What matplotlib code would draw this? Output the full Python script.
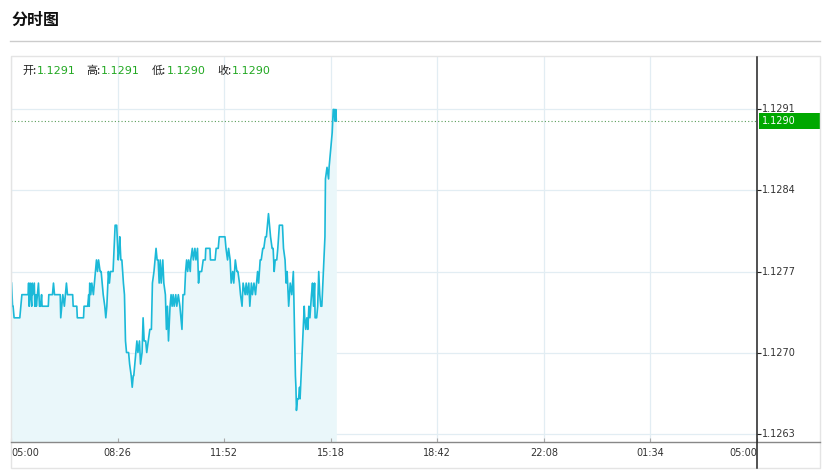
import matplotlib
matplotlib.use("Agg")
import matplotlib.pyplot as plt
from matplotlib.lines import Line2D
from matplotlib.patches import Rectangle
import matplotlib.transforms as mtransforms

# ── Data: minutes after 05:00, price ────────────────────────────────────────
minutes = [
    1, 3, 4, 6, 17, 21, 33, 34, 35, 37, 38, 40, 41, 42, 45, 46, 48, 49, 51, 53,
    55, 57, 59, 60, 72, 73, 80, 82, 84, 95, 96, 98, 100, 103, 105, 107, 109, 119,
    120, 127, 128, 140, 141, 148, 150, 151, 152, 154, 156, 159, 161, 163, 165,
    167, 169, 172, 174, 176, 178, 181, 183, 185, 187, 188, 190, 192, 195, 197,
    199, 201, 204, 205, 207, 209, 210, 212, 214, 217, 219, 221, 223, 227, 229,
    232, 234, 236, 237, 239, 243, 245, 248, 250, 253, 255, 257, 260, 262, 265,
    268, 271, 273, 276, 278, 280, 282, 284, 286, 288, 290, 293, 295, 298, 300,
    302, 304, 307, 309, 311, 313, 315, 318, 320, 323, 326, 328, 330, 332, 335,
    337, 339, 341, 343, 346, 347, 350, 352, 355, 357, 360, 362, 364, 368, 371,
    375, 376, 384, 385, 394, 396, 400, 402, 413, 415, 418, 420, 423, 425, 428,
    430, 433, 436, 438, 441, 443, 446, 448, 452, 454, 456, 459, 461, 464, 466,
    469, 472, 474, 476, 478, 481, 483, 486, 488, 491, 493, 495, 497, 499, 501,
    504, 506, 508, 510, 513, 515, 518, 522, 524, 526, 529, 531, 533, 536, 539,
    542, 545, 548, 549, 550, 551, 553, 555, 557, 558, 561, 563, 566, 567, 569,
    571, 573, 575, 577, 580, 582, 584, 586, 587, 590, 592, 594, 596, 598, 600,
    603, 606, 607, 610, 613, 614, 616, 618, 620, 622, 624, 625, 627, 628,
]
prices = [
    1.1276, 1.1274, 1.1274, 1.1273, 1.1273, 1.1275, 1.1275, 1.1276, 1.1274, 1.1276,
    1.1275, 1.1274, 1.1276, 1.1275, 1.1276, 1.1274, 1.1275, 1.1274, 1.1275, 1.1276,
    1.1274, 1.1274, 1.1275, 1.1274, 1.1274, 1.1275, 1.1275, 1.1276, 1.1275, 1.1275,
    1.1273, 1.1274, 1.1275, 1.1274, 1.1275, 1.1276, 1.1275, 1.1275, 1.1274, 1.1274,
    1.1273, 1.1273, 1.1274, 1.1274, 1.1275, 1.1274, 1.1276, 1.1275, 1.1276, 1.1275,
    1.1276, 1.1277, 1.1278, 1.1277, 1.1278, 1.1277, 1.1277, 1.1276, 1.1275, 1.1274,
    1.1273, 1.1274, 1.1276, 1.1277, 1.1276, 1.1277, 1.1277, 1.1277, 1.1279, 1.1281,
    1.1281, 1.1280, 1.1278, 1.1279, 1.1280, 1.1278, 1.1278, 1.1276, 1.1275, 1.1271,
    1.1270, 1.1270, 1.1269, 1.1268, 1.1267, 1.1268, 1.1268, 1.1269, 1.1271, 1.1270,
    1.1271, 1.1269, 1.1270, 1.1273, 1.1271, 1.1271, 1.1270, 1.1271, 1.1272, 1.1272,
    1.1276, 1.1277, 1.1278, 1.1279, 1.1278, 1.1278, 1.1276, 1.1278, 1.1276, 1.1278,
    1.1276, 1.1275, 1.1272, 1.1274, 1.1271, 1.1274, 1.1275, 1.1274, 1.1275, 1.1274,
    1.1275, 1.1274, 1.1275, 1.1274, 1.1273, 1.1272, 1.1275, 1.1275, 1.1277, 1.1278,
    1.1277, 1.1278, 1.1277, 1.1278, 1.1279, 1.1278, 1.1279, 1.1278, 1.1279, 1.1276,
    1.1277, 1.1277, 1.1278, 1.1278, 1.1279, 1.1279, 1.1278, 1.1278, 1.1279, 1.1279,
    1.1280, 1.1280, 1.1279, 1.1278, 1.1279, 1.1278, 1.1276, 1.1277, 1.1276, 1.1278,
    1.1277, 1.1277, 1.1276, 1.1275, 1.1274, 1.1276, 1.1275, 1.1276, 1.1275, 1.1276,
    1.1274, 1.1276, 1.1275, 1.1276, 1.1275, 1.1276, 1.1277, 1.1276, 1.1278, 1.1278,
    1.1279, 1.1279, 1.1280, 1.1280, 1.1281, 1.1282, 1.1281, 1.1280, 1.1279, 1.1279,
    1.1277, 1.1278, 1.1278, 1.1279, 1.1281, 1.1281, 1.1281, 1.1279, 1.1278, 1.1276,
    1.1277, 1.1274, 1.1276, 1.1275, 1.1277, 1.1270, 1.1268, 1.1267, 1.1265, 1.1266,
    1.1266, 1.1267, 1.1266, 1.1269, 1.1271, 1.1274, 1.1273, 1.1272, 1.1273, 1.1272,
    1.1274, 1.1273, 1.1275, 1.1276, 1.1274, 1.1276, 1.1273, 1.1273, 1.1274, 1.1277,
    1.1275, 1.1274, 1.1274, 1.1277, 1.1280, 1.1285, 1.1286, 1.1285, 1.1286, 1.1287,
    1.1288, 1.1289, 1.1291, 1.1291, 1.1290, 1.1291, 1.1290,
]

x_tick_labels = ["05:00", "08:26", "11:52", "15:18", "18:42", "22:08", "01:34", "05:00"]
y_ticks = [1.1263, 1.1270, 1.1277, 1.1284, 1.1291]
ohlc = [("开", "1.1291"), ("高", "1.1291"), ("低", "1.1290"), ("收", "1.1290")]
last_price = 1.1290
session_len = 1440  # minutes in the 24h window

# ── Style ───────────────────────────────────────────────────────────────────
LINE = "#1bb9d8"
FILL = "#eaf7fa"
GRID = "#e2edf3"
GREEN = "#00a800"
TXT_GREEN = "#22a822"
W, H = 823, 473

plt.rcParams["font.family"] = ["Noto Sans CJK SC", "DejaVu Sans"]

fig = plt.figure(figsize=(W / 100, H / 100), dpi=100, facecolor="white")


def fx(x):
    return x / W


def fy(y):
    return 1 - y / H


ax = fig.add_axes([fx(11), fy(442), (757 - 11) / W, (442 - 56) / H])
ax.set_facecolor("white")

y_lo, y_hi = 1.126227, 1.129562
ax.set_xlim(0, session_len)
ax.set_ylim(y_lo, y_hi)

x_ticks = [i * session_len / 7 for i in range(8)]
for xt in x_ticks:
    ax.axvline(xt, color=GRID, lw=0.9, zorder=0)
for yt in y_ticks:
    ax.axhline(yt, color=GRID, lw=0.9, zorder=0)

ax.fill_between(minutes, prices, y_lo, color=FILL, lw=0, zorder=1)
ax.plot(minutes, prices, color=LINE, lw=1.2, zorder=3)

ax.axhline(last_price, color="#5a9e5a", lw=0.8, ls=(0, (1, 2)), zorder=2)

for s in ax.spines.values():
    s.set_visible(False)

ax.set_xticks(x_ticks)
ax.set_xticklabels([])
ax.tick_params(axis="x", direction="in", length=3, color="#aaaaaa")
ax.set_yticks(y_ticks)
ax.yaxis.tick_right()
ax.set_yticklabels([])
ax.tick_params(axis="y", direction="out", length=3, width=0.8, color="#222222")

# x labels
xtr = mtransforms.blended_transform_factory(ax.transData, fig.transFigure)
for i, (xt, lab) in enumerate(zip(x_ticks, x_tick_labels)):
    ha = "center"
    xx = xt
    if i == 0:
        ha = "left"
        xx = xt + 1
    elif i == len(x_ticks) - 1:
        ha = "right"
    ax.text(xx, fy(453), lab, transform=xtr, ha=ha, va="center",
            fontsize=7, color="#333333", family="DejaVu Sans")

# y labels
ytr = mtransforms.blended_transform_factory(fig.transFigure, ax.transData)
for yt in y_ticks:
    ax.text(fx(762), yt, f"{yt:.4f}", transform=ytr, ha="left", va="center",
            fontsize=7, color="#333333", family="DejaVu Sans", clip_on=False)

# last price tag
box_h = 16 * (y_hi - y_lo) / (442 - 56)
ax.add_patch(Rectangle((fx(759), last_price - box_h / 2), fx(820) - fx(759), box_h,
                       transform=ytr, facecolor=GREEN, edgecolor="none",
                       clip_on=False, zorder=5))
ax.text(fx(762), last_price, f"{last_price:.4f}", transform=ytr, ha="left",
        va="center", fontsize=7, color="white", family="DejaVu Sans",
        clip_on=False, zorder=6)

# frame lines
fig.add_artist(Rectangle((fx(11), fy(468)), fx(820) - fx(11), fy(56) - fy(468),
                         transform=fig.transFigure, fill=False,
                         edgecolor="#e4e4e4", lw=1))
fig.add_artist(Line2D([fx(11), fx(820)], [fy(442), fy(442)],
                      transform=fig.transFigure, color="#888888", lw=1))
fig.add_artist(Line2D([fx(757), fx(757)], [fy(57), fy(468)],
                      transform=fig.transFigure, color="#222222", lw=1.1))
fig.add_artist(Line2D([fx(10), fx(820)], [fy(41), fy(41)],
                      transform=fig.transFigure, color="#cccccc", lw=1))

# title
fig.text(fx(11), fy(20), "分时图", fontsize=11.5, fontweight="bold",
         ha="left", va="center", color="#111111")

# OHLC header
label_x = [22, 86, 152, 217]
for lx, (k, v) in zip(label_x, ohlc):
    t = fig.text(fx(lx), fy(71), k + ":", fontsize=8, ha="left", va="center",
                 color="#222222")
    fig.text(fx(lx + 15), fy(71), v, fontsize=8, ha="left", va="center",
             color=TXT_GREEN, family="DejaVu Sans")

fig.savefig("out.png", dpi=100, facecolor="white")
